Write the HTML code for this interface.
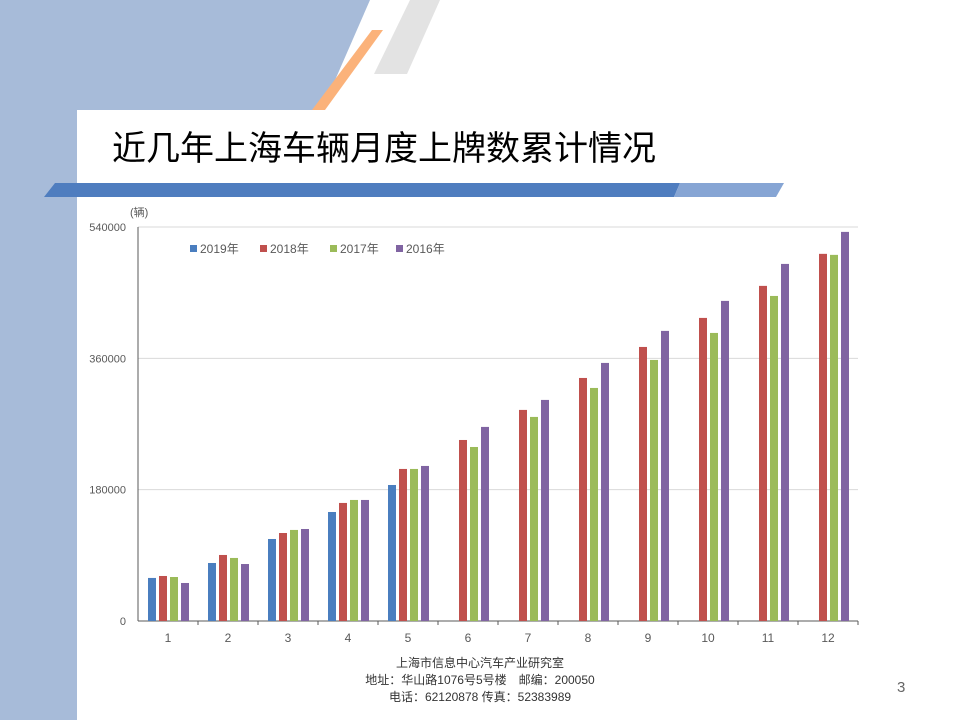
<!DOCTYPE html>
<html><head><meta charset="utf-8"><style>
html,body{margin:0;padding:0;width:960px;height:720px;overflow:hidden;background:#fff;font-family:"Liberation Sans","Noto Sans CJK SC",sans-serif}
</style></head><body>
<svg width="960" height="720" viewBox="0 0 960 720">
<polygon points="0,0 370,0 322,110 0,110" fill="#a7bbd9"/>
<rect x="0" y="100" width="77" height="620" fill="#a7bbd9"/>
<polygon points="372,30 383,30 325,110 312,110" fill="#fbb27a"/>
<polygon points="410,0 440,0 407,74 374,74" fill="#e3e3e3"/>
<path d="M77,720 L77,124 Q77,110 91,110 L960,110 L960,720 Z" fill="#fff"/>
<text x="112" y="160" font-size="34" fill="#000" font-family="'Noto Sans CJK SC',sans-serif">近几年上海车辆月度上牌数累计情况</text>
<polygon points="55,183 680,183 674,197 44,197" fill="#4f7dbf"/>
<polygon points="680,183 784,183 776,197 674,197" fill="#86a5d4"/>
<g id="chart"></g>
<text x="480" y="667" font-size="12" fill="#333" text-anchor="middle">上海市信息中心汽车产业研究室</text>
<text x="480" y="684" font-size="12" fill="#333" text-anchor="middle">地址：华山路1076号5号楼　邮编：200050</text>
<text x="480" y="701" font-size="12" fill="#333" text-anchor="middle">电话：62120878  传真：52383989</text>
<text x="897" y="692" font-size="15" fill="#666">3</text>
</svg>
<script>
const categories=["1","2","3","4","5","6","7","8","9","10","11","12"];
const seriesNames=["2019年","2018年","2017年","2016年"];
const colors=["#4a7ebf","#c0504d","#9bbb59","#8064a2"];
const s2019=[59000,79500,112400,149400,186400,null,null,null,null,null,null,null];
const s2018=[61700,90500,120600,161800,208400,248100,289300,333100,375600,415400,459300,503200];
const s2017=[60300,86400,124800,165900,208400,238500,279700,319400,357800,394800,445500,501800];
const s2016=[52100,78100,126100,165900,212500,266000,303000,353700,397600,438700,489400,533300];
const yTicks=[0,180000,360000,540000];
const series=[s2019,s2018,s2017,s2016];
const NS="http://www.w3.org/2000/svg";
const g=document.getElementById('chart');
const x0=138,x1=858,y0=621,y1=227,yMax=540000;
const bw=(x1-x0)/categories.length;
function y(v){return y0-(v/yMax)*(y0-y1);}
function cx(i){return x0+bw*(i+0.5);}
function mk(t,a){const e=document.createElementNS(NS,t);for(const k in a)e.setAttribute(k,a[k]);g.appendChild(e);return e;}
yTicks.forEach(v=>{
 if(v>0){const l=mk('line',{x1:x0,x2:x1,y1:y(v),y2:y(v),stroke:'#d9d9d9'});
 
 }
 const t=mk('text',{x:x0-12,y:y(v)+4,'font-size':11,fill:'#595959','text-anchor':'end'});t.textContent=v;
 
 
});
const yl=mk('line',{x1:x0,x2:x0,y1:y1,y2:y0,stroke:'#595959'});


const xl=mk('line',{x1:x0,x2:x1,y1:y0,y2:y0,stroke:'#595959'});


const ut=mk('text',{x:130,y:216,'font-size':11,fill:'#595959'});ut.textContent='(辆)';


categories.forEach((c,i)=>{
 const tk=mk('line',{x1:x0+bw*(i+1),x2:x0+bw*(i+1),y1:y0,y2:y0+4,stroke:'#595959'});
 
 
 const t=mk('text',{x:cx(i),y:y0+21,'font-size':12,fill:'#595959','text-anchor':'middle'});t.textContent=c;
 
 
 series.forEach((s,j)=>{
  const v=s[i];if(v==null)return;
  const r=mk('rect',{x:cx(i)-20+j*11,y:y(v),width:8,height:y0-y(v),fill:colors[j]});
  
  
 });
});
const lx=[190,260,330,396];
seriesNames.forEach((n,j)=>{
 const r=mk('rect',{x:lx[j],y:245,width:7,height:7,fill:colors[j]});
 
 
 const t=mk('text',{x:lx[j]+10,y:253,'font-size':12,fill:'#595959'});t.textContent=n;
 
 
});
</script>
</body></html>
